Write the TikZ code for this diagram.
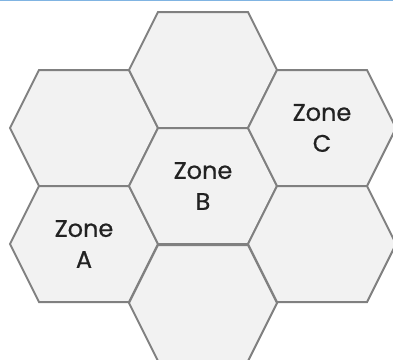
\documentclass[tikz,border=0pt]{standalone}
\usepackage{fontspec}
\setmainfont{Poppins}
\newfontfamily\zonefont{Poppins}[FakeBold=0.6]
\usetikzlibrary{calc}
\definecolor{hexfill}{HTML}{F2F2F2}
\definecolor{hexline}{HTML}{808080}
\definecolor{topline}{HTML}{80B4E2}
\definecolor{txt}{HTML}{222222}
\begin{document}
\begin{tikzpicture}[x=1pt,y=-1pt,
  hexcell/.style={fill=hexfill,draw=hexline,line width=2pt,line join=miter},
  zonelabel/.style={text=txt,align=center,font=\zonefont\fontsize{24}{31}\selectfont,inner sep=0pt}]
\useasboundingbox (0,0) rectangle (393,359);
\clip (0,0) rectangle (393,359);
\foreach \cx/\cy/\nm in {84/128/h1,84/244/hA,203/70/h2,203/186/hB,203/303/h3,322/128/hC,322/244/h4}{
  \coordinate (\nm) at (\cx,\cy);
  \draw[hexcell] ($(\nm)+(-74,0)$) -- ++(29,-58) -- ++(90,0) -- ++(29,58) -- ++(-29,58) -- ++(-90,0) -- cycle;
}
\node[zonelabel] (la) at (hA) {Zone\\A};
\node[zonelabel] (lb) at (hB) {Zone\\B};
\node[zonelabel] (lc) at (hC) {Zone\\C};
\draw[topline,line width=1.5pt] (0,0.5) -- (393,0.5);
\end{tikzpicture}
\end{document}
